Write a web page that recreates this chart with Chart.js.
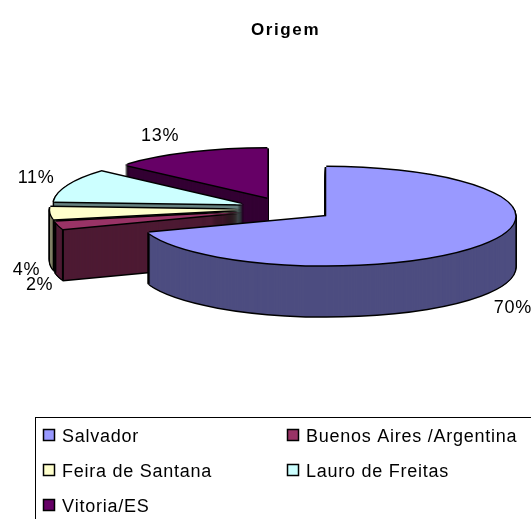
<!DOCTYPE html>
<html>
<head>
<meta charset="utf-8">
<script src="https://cdn.jsdelivr.net/npm/chart.js@4"></script>
<style>
  html, body { margin: 0; padding: 0; background: #fff; overflow: hidden; }
  #wrap { width: 531px; height: 519px; }
</style>
</head>
<body>
<div id="wrap"><canvas id="pie"></canvas></div>
<script>
const chartTitle = 'Origem';
const cities = ['Salvador', 'Buenos Aires /Argentina', 'Feira de Santana', 'Lauro de Freitas', 'Vitoria/ES'];
const shares = [69.5, 2.4, 4.0, 10.7, 13.4];
const topColors = ['#9999FF', '#993366', '#FFFFCC', '#CCFFFF', '#660066'];
const sideColors = ['#4D4D80', '#4D1A33', '#808066', '#668080', '#330033'];

// look of the fake 3d
const flatten = 0.26;
const depth = 51;
const explode = 48;
const pieRadius = 189;
const paintOrder = [4, 3, 2, 1, 0];
const labelNudge = [[32, 64], [-19, 60], [-24, 57], [-32, -7], [-30, -17]];

const font = 'Liberation Sans, Arial, sans-serif';

function stamp(ctx, arc, color, dx, dy) {
  const saved = arc.options;
  const mid = (arc.startAngle + arc.endAngle) / 2;
  arc.options = Object.assign({}, saved, { backgroundColor: color, borderWidth: 0 });
  ctx.save();
  ctx.translate(arc.x + dx, arc.y + dy);
  ctx.scale(1, flatten);
  ctx.translate(Math.cos(mid) * explode - arc.x, Math.sin(mid) * explode - arc.y);
  arc.draw(ctx);
  ctx.restore();
  arc.options = saved;
}

function project(arc, angle, radius) {
  const mid = (arc.startAngle + arc.endAngle) / 2;
  return {
    x: arc.x + Math.cos(mid) * explode + Math.cos(angle) * radius,
    y: arc.y + (Math.sin(mid) * explode + Math.sin(angle) * radius) * flatten
  };
}

function drawSlice(ctx, arc, i) {
  // black silhouette of the wall
  for (let d = depth; d >= 0; d--) {
    stamp(ctx, arc, '#000', -1.5, d);
    stamp(ctx, arc, '#000', 1.5, d);
  }
  stamp(ctx, arc, '#000', 0, depth + 1.5);
  for (let d = depth; d >= 1; d--) {
    stamp(ctx, arc, sideColors[i], 0, d);
  }
  // edges of the wall, only the corners in front of the slice tip show
  ctx.save();
  ctx.strokeStyle = '#000';
  ctx.lineWidth = 2;
  [arc.startAngle, arc.endAngle].forEach(a => {
    if (Math.sin(a) <= 0) return;
    const p = project(arc, a, arc.outerRadius);
    ctx.beginPath();
    ctx.moveTo(p.x, p.y);
    ctx.lineTo(p.x, p.y + depth);
    ctx.stroke();
  });
  ctx.restore();
  // top face
  stamp(ctx, arc, '#000', -1.5, 0);
  stamp(ctx, arc, '#000', 1.5, 0);
  stamp(ctx, arc, '#000', 0, -1.5);
  stamp(ctx, arc, '#000', 0, 1.5);
  stamp(ctx, arc, topColors[i], 0, 0);
}

const pie3d = {
  id: 'pie3d',
  beforeDatasetDraw() {
    return false;
  },
  afterDatasetsDraw(chart) {
    const ctx = chart.ctx;
    const arcs = chart.getDatasetMeta(0).data;
    paintOrder.forEach(i => drawSlice(ctx, arcs[i], i));

    const total = shares.reduce((a, b) => a + b, 0);
    ctx.save();
    ctx.fillStyle = '#000';
    ctx.font = '18px ' + font;
    ctx.letterSpacing = '0.7px';
    ctx.textAlign = 'center';
    ctx.textBaseline = 'middle';
    arcs.forEach((arc, i) => {
      const mid = (arc.startAngle + arc.endAngle) / 2;
      const p = project(arc, mid, arc.outerRadius);
      ctx.fillText(Math.round(shares[i] / total * 100) + '%', p.x + labelNudge[i][0], p.y + labelNudge[i][1]);
    });
    ctx.restore();
  },
  afterDraw(chart) {
    const ctx = chart.ctx;
    ctx.save();
    ctx.fillStyle = '#000';
    ctx.textBaseline = 'alphabetic';
    ctx.font = 'bold 17px ' + font;
    ctx.letterSpacing = '1.6px';
    ctx.fillText(chartTitle, 251, 35);

    // legend box runs off the page on the right and at the bottom
    ctx.strokeStyle = '#000';
    ctx.lineWidth = 1;
    ctx.strokeRect(35.5, 417.5, 520, 120);
    ctx.font = '18px ' + font;
    ctx.fontKerning = 'none';
    ctx.letterSpacing = '0.75px';
    cities.forEach((name, i) => {
      const col = i % 2;
      const row = Math.floor(i / 2);
      const x = col ? 287 : 43;
      const y = 429 + row * 35;
      ctx.fillStyle = topColors[i];
      ctx.lineWidth = 1.5;
      ctx.fillRect(x + 0.5, y + 0.5, 11, 11);
      ctx.strokeRect(x + 0.5, y + 0.5, 11, 11);
      ctx.fillStyle = '#000';
      ctx.fillText(name, x + 19, y + 13);
    });
    ctx.restore();
  }
};

new Chart(document.getElementById('pie'), {
  type: 'pie',
  data: {
    labels: cities,
    datasets: [{
      data: shares,
      backgroundColor: topColors,
      borderWidth: 0
    }]
  },
  options: {
    responsive: true,
    maintainAspectRatio: false,
    animation: false,
    radius: pieRadius,
    layout: { padding: { left: 43, bottom: 101 } },
    plugins: { legend: { display: false }, title: { display: false }, tooltip: { enabled: false } }
  },
  plugins: [pie3d]
});
</script>
</body>
</html>
